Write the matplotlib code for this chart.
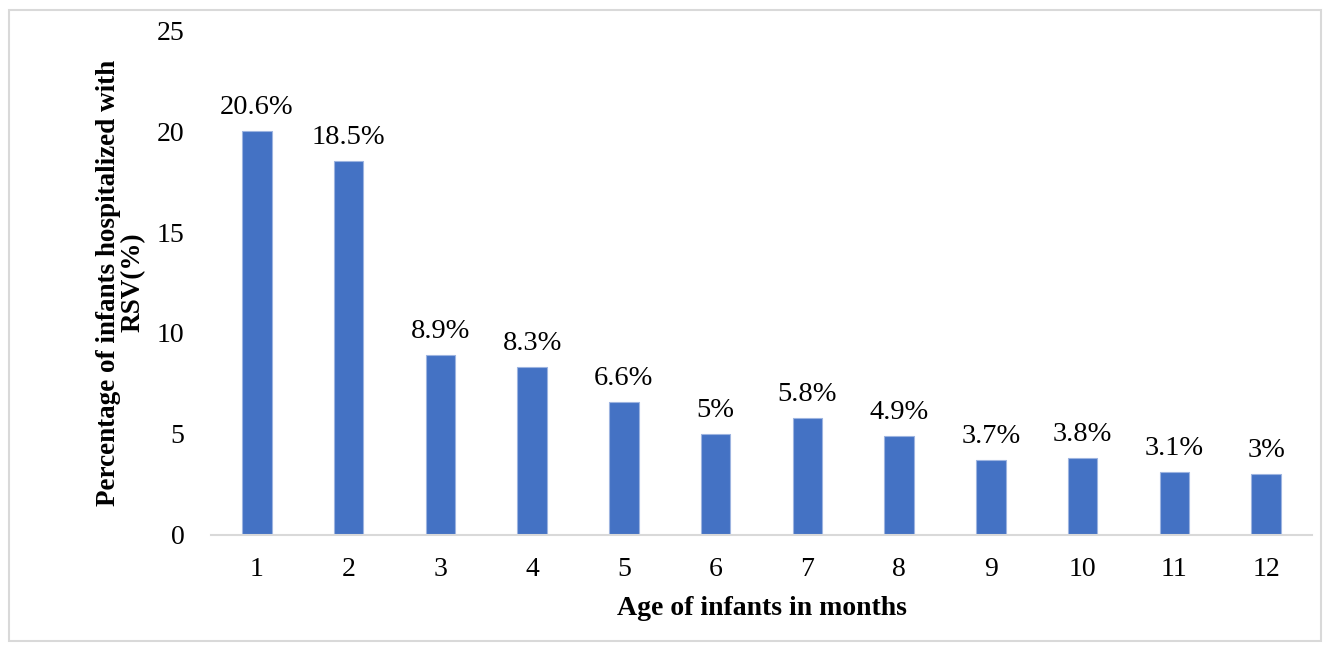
import matplotlib
matplotlib.use("Agg")
import matplotlib.pyplot as plt
from matplotlib.patches import Rectangle

# data
months = ["1", "2", "3", "4", "5", "6", "7", "8", "9", "10", "11", "12"]
heights = [20.0, 18.5, 8.9, 8.3, 6.6, 5.0, 5.8, 4.9, 3.7, 3.8, 3.1, 3.0]
bar_labels = ["20.6%", "18.5%", "8.9%", "8.3%", "6.6%", "5%", "5.8%", "4.9%",
              "3.7%", "3.8%", "3.1%", "3%"]
yticks = [0, 5, 10, 15, 20, 25]

BLUE, EDGE, GRID = "#4472C4", "#9DB4E0", "#D9D9D9"

plt.rcParams["font.family"] = ["Liberation Serif", "DejaVu Serif"]

fig = plt.figure(figsize=(13.29, 6.51), dpi=100)
ax = fig.add_axes([0.1588, 0.1782, 0.8284, 0.7757])

x = list(range(1, len(months) + 1))
bars = ax.bar(x, heights, width=0.32, color=BLUE, edgecolor=EDGE, linewidth=0.8)
for b, lab in zip(bars, bar_labels):
    ax.annotate(lab, (b.get_x() + b.get_width() / 2, b.get_height()),
                xytext=(0, 8), textcoords="offset points",
                ha="center", va="bottom", fontsize=20.5)

ax.set_xlim(0.5, 12.5)
ax.set_ylim(0, 25)
ax.set_xticks(x)
ax.set_xticklabels(months, fontsize=20)
ax.set_yticks(yticks)
ax.set_yticklabels([str(t) for t in yticks], fontsize=20)
ax.tick_params(length=0)
ax.tick_params(axis="x", pad=16)
ax.tick_params(axis="y", pad=19)
for s in ["top", "right", "left"]:
    ax.spines[s].set_visible(False)
ax.spines["bottom"].set_color(GRID)
ax.spines["bottom"].set_linewidth(1.5)

ax.set_xlabel("Age of infants in months", fontsize=20, fontweight="bold", labelpad=10)
ax.set_ylabel("Percentage of infants hospitalized with\nRSV(%)", fontsize=19.5,
              fontweight="bold", labelpad=8, linespacing=1.0)

# thin frame around the whole picture
fig.patches.append(Rectangle((9 / 1329, 10 / 651), 1312 / 1329, 631 / 651,
                             transform=fig.transFigure, fill=False,
                             edgecolor=GRID, linewidth=1.5))

fig.savefig("out.png", dpi=100, facecolor="white")
